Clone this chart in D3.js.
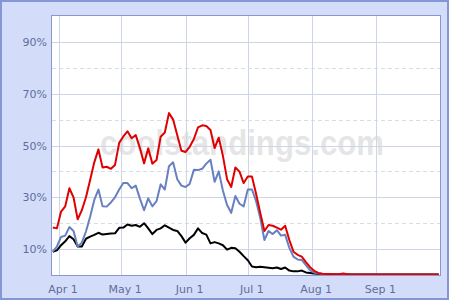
<!DOCTYPE html>
<html lang="en">
<head>
    <meta charset="UTF-8">
    <title>playoff odds</title>
    <style>
        body { margin:0; background:#fff; }
        svg { display:block; }
    </style>
</head>
<body>
<script src="https://cdn.jsdelivr.net/npm/d3@7/dist/d3.min.js"></script>
<script type="text/javascript">
    // one point every 2 days, first one on Mar 29
    var startDate = new Date(2009, 2, 29);
    var stepDays = 2;

    var red = [18.3, 18.0, 24.5, 26.5, 33.5, 30, 21.5, 25, 30, 36.7,
        43.5, 48.5, 41.5, 41.8, 41, 42.5, 51, 53.5, 55.5, 52.8,
        54, 49, 43.1, 48.9, 43, 44.4, 53.4, 55, 62.5, 60,
        54, 48, 47.5, 49.5, 52.5, 57, 57.8, 57.5, 56, 49,
        53, 46, 37, 34, 41.5, 39.9, 35.5, 38, 38, 31.3,
        24, 17, 19.3, 19, 18.3, 17.5, 19, 13.5, 9, 7.8,
        7.1, 5, 3, 1.6, 0.8, 0.5, 0.4, 0.4, 0.3, 0.3,
        0.6, 0.3, 0.2, 0.2, 0.2, 0.2, 0.2, 0.2, 0.2, 0.2,
        0.2, 0.2, 0.2, 0.2, 0.2, 0.2, 0.2, 0.2, 0.2, 0.2,
        0.2, 0.2, 0.2, 0.2];
    var blue = [9.0, 11, 14.7, 15.2, 18.5, 17, 11, 12.5, 16.8, 22.5,
        29, 33, 26.5, 26.4, 28, 30, 33, 35.5, 35.5, 33.5,
        34.5, 29.5, 25, 29.6, 26.5, 28.5, 35, 33, 42, 43.5,
        37, 34.5, 34, 35.2, 40.6, 40.5, 41, 43, 44.5, 36,
        40, 32.5, 27, 24, 30.5, 27.5, 26.5, 33, 33, 28.5,
        22, 13.5, 17, 15.8, 17.3, 15.2, 15.5, 10.5, 7.1, 6,
        5.8, 3.8, 1.8, 1.0, 0.6, 0.4, 0.3, 0.3, 0.3, 0.3,
        0.3, 0.3, 0.2, 0.2, 0.2, 0.2, 0.2, 0.2, 0.2, 0.2,
        0.2, 0.2, 0.2, 0.2, 0.2, 0.2, 0.2, 0.2, 0.2, 0.2,
        0.2, 0.2, 0.2, 0.2];
    var black = [9.0, 9.5, 11.5, 13, 15, 13.8, 11, 11, 14, 14.8,
        15.5, 16.3, 15.6, 15.8, 16, 16.1, 18.2, 18.3, 19.5, 19,
        19.3, 18.6, 20, 18, 15.8, 17.4, 18, 19.2, 18.3, 17.4,
        17, 15, 12.5, 14.2, 15.5, 18, 16.2, 15.6, 12.2, 12.7,
        12.2, 11.5, 9.8, 10.5, 10.3, 9, 7.3, 5.7, 3.3, 3.0,
        3.2, 3.0, 2.8, 2.6, 2.9, 2.3, 2.9, 1.7, 1.4, 1.4,
        1.7, 1.0, 0.8, 0.6, 0.4, 0.4, 0.3, 0.3, 0.3, 0.3,
        0.3, 0.3, 0.2, 0.2, 0.2, 0.2, 0.2, 0.2, 0.2, 0.2,
        0.2, 0.2, 0.2, 0.2, 0.2, 0.2, 0.2, 0.2, 0.2, 0.2,
        0.2, 0.2, 0.2, 0.2];

    var yLabelTicks = [10, 30, 50, 70, 90];
    var yDashTicks = [20, 40, 60, 80];
    var monthTicks = [new Date(2009, 3, 1), new Date(2009, 4, 1), new Date(2009, 5, 1),
        new Date(2009, 6, 1), new Date(2009, 7, 1), new Date(2009, 8, 1)];
    var monthLabels = ["Apr 1", "May 1", "Jun 1", "Jul 1", "Aug 1", "Sep 1"];

    var w = 454;
    var h = 304;
    // plot area (don't call these top/left, window.top is taken)
    var pLeft = 52, pTop = 16, pRight = 440, pBottom = 275;

    var svg = d3.select("body")
        .append("svg")
        .attr("width", w)
        .attr("height", h);

    // outer panel
    svg.append("rect")
        .attr("x", 1).attr("y", 1)
        .attr("width", 447).attr("height", 298)
        .attr("fill", "#d3ddf9")
        .attr("stroke", "#8596d6")
        .attr("stroke-width", 2);

    svg.append("rect")
        .attr("x", pLeft).attr("y", pTop)
        .attr("width", pRight - pLeft).attr("height", pBottom - pTop)
        .attr("fill", "#fff");

    var xScale = d3.scaleTime()
        .domain([new Date(2009, 2, 28, 15), new Date(2009, 9, 1, 15)])
        .range([pLeft, pRight]);
    var yScale = d3.scaleLinear()
        .domain([0, 100])
        .range([pBottom, pTop]);

    var dates = red.map(function (d, i) {
        return d3.timeDay.offset(startDate, i * stepDays);
    });

    // watermark
    svg.append("text")
        .text("coolstandings.com")
        .attr("x", 100)
        .attr("y", 155)
        .attr("textLength", 284)
        .attr("lengthAdjust", "spacingAndGlyphs")
        .attr("font-family", "Liberation Sans, Arial, sans-serif")
        .attr("font-weight", "bold")
        .attr("font-size", "35px")
        .attr("fill", "#cfcfcf")
        .attr("fill-opacity", 0.55);

    // grid
    svg.selectAll("line.ysolid").data(yLabelTicks).enter().append("line")
        .attr("class", "ysolid")
        .attr("x1", pLeft).attr("x2", pRight)
        .attr("y1", function (d) { return Math.round(yScale(d)) + 0.5; })
        .attr("y2", function (d) { return Math.round(yScale(d)) + 0.5; })
        .attr("stroke", "#cdd6e6");
    svg.selectAll("line.ydash").data(yDashTicks).enter().append("line")
        .attr("class", "ydash")
        .attr("x1", pLeft).attr("x2", pRight)
        .attr("y1", function (d) { return Math.round(yScale(d)) + 0.5; })
        .attr("y2", function (d) { return Math.round(yScale(d)) + 0.5; })
        .attr("stroke", "#d6ddea")
        .attr("stroke-dasharray", "4,3");
    svg.selectAll("line.xgrid").data(monthTicks).enter().append("line")
        .attr("class", "xgrid")
        .attr("y1", pTop).attr("y2", pBottom)
        .attr("x1", function (d) { return Math.round(xScale(d)) + 0.5; })
        .attr("x2", function (d) { return Math.round(xScale(d)) + 0.5; })
        .attr("stroke", "#cdd6e6");

    // labels
    svg.selectAll("text.ylab").data(yLabelTicks).enter().append("text")
        .attr("class", "ylab")
        .text(function (d) { return d + "%"; })
        .attr("x", 47)
        .attr("y", function (d) { return yScale(d) + 4; })
        .attr("text-anchor", "end")
        .attr("font-family", "DejaVu Sans, Verdana, sans-serif")
        .attr("font-size", "11px")
        .attr("fill", "#5e6d9c");
    svg.selectAll("text.xlab").data(monthTicks).enter().append("text")
        .attr("class", "xlab")
        .text(function (d, i) { return monthLabels[i]; })
        .attr("x", function (d) { return xScale(d) + 4; })
        .attr("y", 293)
        .attr("text-anchor", "middle")
        .attr("font-family", "DejaVu Sans, Verdana, sans-serif")
        .attr("font-size", "11px")
        .attr("fill", "#5e6d9c");

    var line = d3.line()
        .x(function (d, i) { return xScale(dates[i]); })
        .y(function (d) { return yScale(d); });

    var series = [
        {values: black, color: "#000000"},
        {values: blue, color: "#6880bf"},
        {values: red, color: "#e00000"}
    ];
    svg.selectAll("path.series").data(series).enter().append("path")
        .attr("class", "series")
        .attr("d", function (d) { return line(d.values); })
        .attr("fill", "none")
        .attr("stroke", function (d) { return d.color; })
        .attr("stroke-width", 2)
        .attr("stroke-linejoin", "round");

    // plot border
    svg.append("rect")
        .attr("x", pLeft - 0.5).attr("y", pTop - 0.5)
        .attr("width", pRight - pLeft + 1).attr("height", pBottom - pTop + 1)
        .attr("fill", "none")
        .attr("stroke", "#8898cf");
</script>
</body>
</html>
